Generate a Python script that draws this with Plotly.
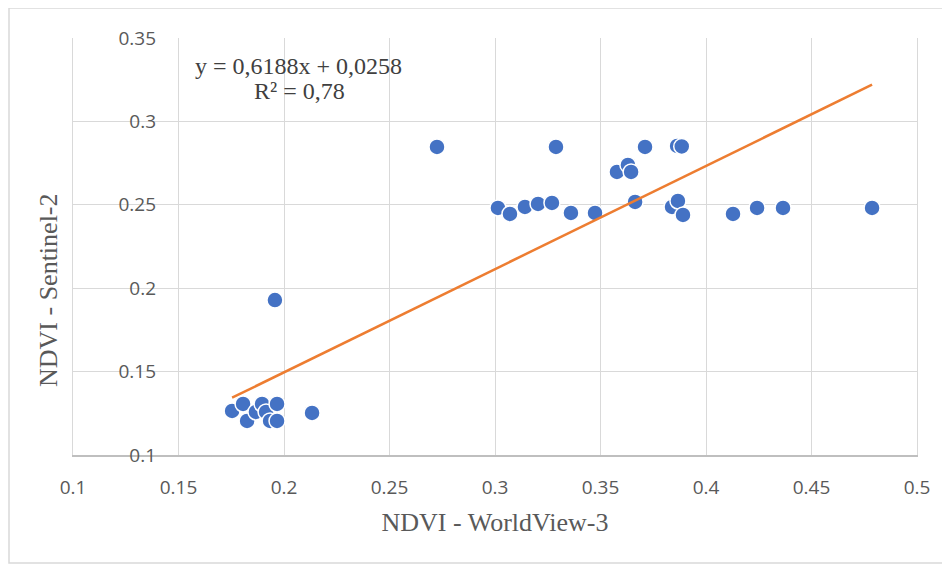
import plotly.graph_objects as go

# Data
ndvi_worldview3 = [
    0.1754, 0.1806, 0.1825, 0.1867, 0.1896, 0.1915, 0.1934, 0.1967, 0.1967, 0.2133,
    0.1957,
    0.2725, 0.3289, 0.3711, 0.3863, 0.3885,
    0.3578, 0.3630, 0.3645,
    0.3014, 0.3071, 0.3142, 0.3204, 0.3270, 0.3360, 0.3474, 0.3664,
    0.3839, 0.3867, 0.3891, 0.4128, 0.4242, 0.4365, 0.4787,
]
ndvi_sentinel2 = [
    0.1264, 0.1306, 0.1204, 0.1258, 0.1306, 0.1258, 0.1204, 0.1306, 0.1204, 0.1252,
    0.1929,
    0.2847, 0.2847, 0.2847, 0.2853, 0.2850,
    0.2697, 0.2739, 0.2697,
    0.2481, 0.2445, 0.2487, 0.2505, 0.2511, 0.2451, 0.2451, 0.2517,
    0.2487, 0.2523, 0.2439, 0.2445, 0.2481, 0.2481, 0.2481,
]
slope = 0.6188
intercept = 0.0258
equation_text = "y = 0,6188x + 0,0258"
r2_text = "R² = 0,78"
x_title = "NDVI - WorldView-3"
y_title = "NDVI - Sentinel-2"
x_ticks = [0.1, 0.15, 0.2, 0.25, 0.3, 0.35, 0.4, 0.45, 0.5]
y_ticks = [0.1, 0.15, 0.2, 0.25, 0.3, 0.35]

x_min = min(ndvi_worldview3)
x_max = max(ndvi_worldview3)
trend_x = [x_min, x_max]
trend_y = [slope * v + intercept for v in trend_x]

# page has an 8px body margin; figure pixel = screen pixel - 8
W, H = 942, 559
ML, MR, MT, MB = 65, 33, 30, 112
PW = W - ML - MR
PH = H - MT - MB

def px_x(p):
    return (p - ML) / PW

def px_y(p):
    return (H - MB - p) / PH

fig = go.Figure()
fig.add_trace(go.Scatter(
    x=ndvi_worldview3, y=ndvi_sentinel2, mode="markers",
    marker=dict(size=16, color="#4472C4", line=dict(color="white", width=1.5)),
    showlegend=False, hoverinfo="x+y",
))
fig.add_trace(go.Scatter(
    x=trend_x, y=trend_y, mode="lines", yaxis="y2",
    line=dict(color="#ED7D31", width=2.5),
    showlegend=False, hoverinfo="skip",
))

tick_font = dict(family="Open Sans", size=19, color="#595959")
title_font = dict(family="Liberation Serif", size=26, color="#595959")
eq_font = dict(family="Liberation Serif", size=24, color="#404040")

fig.update_layout(
    width=W, height=H,
    margin=dict(l=ML, r=MR, t=MT, b=MB),
    paper_bgcolor="white", plot_bgcolor="white",
    xaxis=dict(
        range=[0.1, 0.5], tickvals=x_ticks, ticktext=[f"{v:g}" for v in x_ticks],
        showgrid=True, gridcolor="#D9D9D9", gridwidth=1,
        showline=True, linecolor="#BFBFBF", linewidth=1.5,
        zeroline=False, ticks="outside", ticklen=14, tickcolor="rgba(0,0,0,0)",
        tickfont=tick_font, automargin=False,
        title=dict(text=x_title, font=title_font, standoff=14),
    ),
    yaxis=dict(
        range=[0.1, 0.35], tickvals=y_ticks,
        showgrid=True, gridcolor="#D9D9D9", gridwidth=1,
        showline=True, mirror=True, linecolor="#D9D9D9", linewidth=1,
        zeroline=False, ticks="", showticklabels=False, automargin=False,
    ),
    yaxis2=dict(
        range=[0.1, 0.35], tickvals=y_ticks, ticktext=[f"{v:g}" for v in y_ticks],
        overlaying="y", anchor="free", position=px_x(148), side="left",
        showgrid=False, showline=False, zeroline=False, ticks="",
        tickfont=tick_font, automargin=False,
    ),
    annotations=[
        dict(text=equation_text, xref="paper", yref="paper",
             x=px_x(290), y=px_y(58), xanchor="center", yanchor="middle",
             showarrow=False, font=eq_font),
        dict(text=r2_text, xref="paper", yref="paper",
             x=px_x(291), y=px_y(83), xanchor="center", yanchor="middle",
             showarrow=False, font=eq_font),
        dict(text=y_title, xref="paper", yref="paper", textangle=-90,
             x=px_x(40), y=px_y(282), xanchor="center", yanchor="middle",
             showarrow=False, font=title_font),
    ],
    shapes=[
        dict(type="rect", xref="paper", yref="paper",
             x0=px_x(1), x1=px_x(940), y0=px_y(555), y1=px_y(0),
             line=dict(color="#D9D9D9", width=1.5), fillcolor="rgba(0,0,0,0)", layer="below"),
    ],
)

fig.write_html("out.html")
